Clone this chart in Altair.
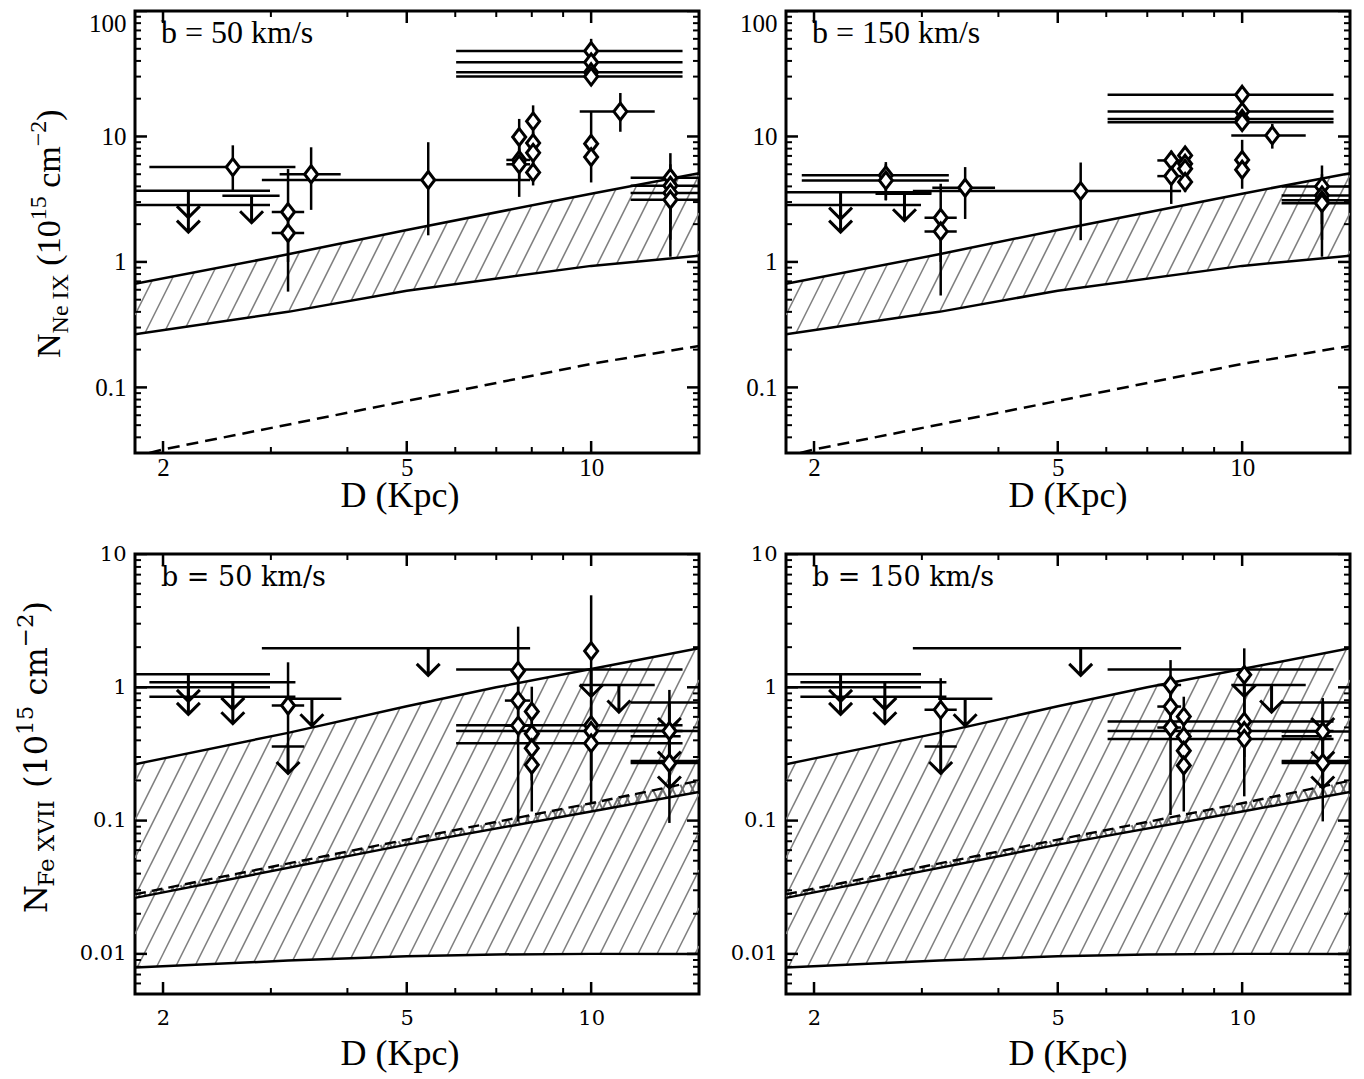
import numpy as np
import pandas as pd
import altair as alt

# ------------------------------------------------------------------ data
XDOM = [1.8, 15.0]
YDOM_NE = [0.03, 100.0]
YDOM_FE = [0.005, 10.0]

# Ne IX, b = 50 km/s : detections (value, y-range, x-range)
ne50_x   = [2.60, 3.20, 3.20, 3.49, 5.42, 7.63, 7.63, 7.63, 8.04, 8.04, 8.04, 8.04, 10.0, 10.0, 10.0, 10.0, 10.0, 10.0, 11.16, 13.47, 13.47, 13.47, 13.47]
ne50_y   = [5.7, 2.5, 1.7, 5.0, 4.5, 9.9, 6.5, 6.0, 13.2, 8.85, 7.4, 5.17, 48.0, 39.0, 32.5, 30.0, 8.75, 6.85, 15.8, 4.69, 4.05, 3.55, 3.13]
ne50_ylo = [3.7, 1.0, 0.58, 2.6, 1.63, 6.5, 4.5, 3.3, 9.5, 6.5, 5.0, 4.07, 40.0, 33.0, 27.0, 25.5, 6.0, 4.3, 10.9, 2.5, 2.0, 1.5, 1.1]
ne50_yhi = [8.5, 5.5, 2.6, 8.2, 9.0, 13.8, 9.0, 8.0, 17.7, 11.0, 10.0, 7.0, 60.0, 47.0, 39.0, 35.0, 15.8, 9.0, 22.2, 7.36, 6.0, 5.5, 5.0]
ne50_xlo = [1.90, 3.01, 3.01, 3.10, 2.90, 7.63, 7.27, 7.27, 8.04, 8.04, 8.04, 8.04, 6.02, 6.02, 6.02, 6.02, 10.0, 10.0, 9.58, 11.6, 11.6, 11.6, 11.6]
ne50_xhi = [3.29, 3.40, 3.40, 3.90, 7.95, 7.63, 7.95, 7.95, 8.04, 8.04, 8.04, 8.04, 14.1, 14.1, 14.1, 14.1, 10.0, 10.0, 12.7, 16.0, 16.0, 16.0, 16.0]
# Ne IX, b = 50 km/s : upper limits
ne50_ul_x   = [2.20, 2.20, 2.79]
ne50_ul_y   = [3.7, 2.84, 3.37]
ne50_ul_xlo = [1.70, 1.70, 2.50]
ne50_ul_xhi = [2.99, 2.99, 3.10]

# Ne IX, b = 150 km/s
ne150_x   = [2.62, 2.62, 3.22, 3.22, 3.53, 5.45, 7.66, 7.66, 8.07, 8.07, 8.07, 8.07, 10.0, 10.0, 10.0, 10.0, 10.0, 10.0, 11.2, 13.5, 13.5, 13.5, 13.5]
ne150_y   = [4.9, 4.46, 2.25, 1.75, 3.9, 3.67, 6.44, 4.83, 7.06, 6.06, 5.53, 4.34, 21.5, 15.8, 13.8, 13.0, 6.5, 5.43, 10.2, 4.0, 3.39, 3.1, 2.94]
ne150_ylo = [3.1, 3.1, 1.0, 0.54, 2.2, 1.49, 4.5, 2.9, 5.5, 4.5, 4.2, 3.6, 18.0, 13.5, 12.0, 11.5, 4.8, 3.83, 8.0, 2.5, 2.0, 1.5, 1.1]
ne150_yhi = [6.25, 6.0, 4.2, 2.5, 5.7, 6.2, 7.7, 6.5, 8.2, 7.5, 7.0, 5.5, 25.0, 18.0, 16.0, 15.0, 9.4, 7.0, 12.6, 5.87, 5.0, 4.5, 4.0]
ne150_xlo = [1.91, 1.91, 3.03, 3.03, 3.12, 2.90, 7.27, 7.27, 8.07, 8.07, 8.07, 8.07, 6.03, 6.03, 6.03, 6.03, 10.0, 10.0, 9.60, 11.6, 11.6, 11.6, 11.6]
ne150_xhi = [3.32, 3.32, 3.42, 3.42, 3.95, 7.95, 7.95, 7.95, 8.07, 8.07, 8.07, 8.07, 14.1, 14.1, 14.1, 14.1, 10.0, 10.0, 12.7, 16.0, 16.0, 16.0, 16.0]
ne150_ul_x   = [2.21, 2.21, 2.81]
ne150_ul_y   = [3.6, 2.84, 3.5]
ne150_ul_xlo = [1.70, 1.70, 2.52]
ne150_ul_xhi = [3.11, 2.99, 3.11]

# Fe XVII, b = 50 km/s
fe50_x   = [3.20, 7.60, 7.60, 7.60, 8.00, 8.00, 8.00, 8.00, 10.0, 10.0, 10.0, 10.0, 13.42, 13.42]
fe50_y   = [0.73, 1.33, 0.795, 0.516, 0.658, 0.448, 0.349, 0.262, 1.87, 0.52, 0.47, 0.38, 0.47, 0.27]
fe50_ylo = [0.36, 0.80, 0.50, 0.0986, 0.40, 0.25, 0.20, 0.117, 0.90, 0.20, 0.20, 0.135, 0.20, 0.096]
fe50_yhi = [1.54, 2.85, 1.20, 0.80, 1.01, 0.65, 0.50, 0.40, 4.90, 1.00, 0.80, 0.60, 0.956, 0.50]
fe50_xlo = [3.01, 7.60, 7.23, 7.23, 8.00, 8.00, 8.00, 8.00, 10.0, 6.02, 6.02, 6.02, 11.6, 11.6]
fe50_xhi = [3.40, 7.60, 7.95, 7.95, 8.00, 8.00, 8.00, 8.00, 10.0, 14.1, 14.1, 14.1, 16.0, 16.0]
fe50_ul_x   = [2.20, 2.20, 2.60, 2.60, 3.20, 3.50, 5.42, 10.0, 11.1, 13.42, 13.42, 13.42]
fe50_ul_y   = [1.25, 1.00, 1.09, 0.85, 0.36, 0.82, 1.96, 1.36, 1.04, 0.77, 0.43, 0.28]
fe50_ul_xlo = [1.70, 1.70, 1.90, 1.90, 3.01, 3.19, 2.90, 6.02, 9.58, 11.6, 11.6, 11.6]
fe50_ul_xhi = [2.99, 2.99, 3.29, 3.29, 3.40, 3.91, 7.95, 14.1, 12.7, 16.0, 14.0, 16.0]

# Fe XVII, b = 150 km/s
fe150_x   = [3.22, 7.64, 7.64, 7.64, 8.03, 8.03, 8.03, 8.03, 10.08, 10.08, 10.08, 10.08, 13.54, 13.54]
fe150_y   = [0.677, 1.04, 0.717, 0.499, 0.603, 0.428, 0.334, 0.259, 1.24, 0.553, 0.47, 0.41, 0.466, 0.27]
fe150_ylo = [0.36, 0.60, 0.40, 0.11, 0.30, 0.25, 0.20, 0.117, 0.70, 0.30, 0.25, 0.152, 0.20, 0.0986]
fe150_yhi = [1.17, 1.60, 1.00, 0.80, 0.85, 0.60, 0.50, 0.40, 1.96, 1.00, 0.80, 0.70, 0.83, 0.50]
fe150_xlo = [3.03, 7.27, 7.27, 7.27, 8.03, 8.03, 8.03, 8.03, 10.08, 6.03, 6.03, 6.03, 11.6, 11.6]
fe150_xhi = [3.42, 7.95, 7.95, 7.95, 8.03, 8.03, 8.03, 8.03, 10.08, 14.1, 14.1, 14.1, 16.0, 16.0]
fe150_ul_x   = [2.21, 2.21, 2.61, 2.61, 3.22, 3.53, 5.45, 10.08, 11.17, 13.54, 13.54, 13.54]
fe150_ul_y   = [1.25, 1.00, 1.09, 0.85, 0.36, 0.82, 1.96, 1.36, 1.04, 0.77, 0.43, 0.28]
fe150_ul_xlo = [1.70, 1.70, 1.90, 1.90, 3.03, 3.19, 2.90, 6.03, 9.60, 11.6, 11.6, 11.6]
fe150_ul_xhi = [2.99, 2.99, 3.29, 3.29, 3.42, 3.91, 7.95, 14.1, 12.7, 16.0, 14.0, 16.0]

# model bands
ne_band_x  = [1.8, 3.2, 5.0, 10.0, 15.0]
ne_band_lo = [0.265, 0.40, 0.59, 0.93, 1.12]
ne_band_hi = [0.67, 1.15, 1.80, 3.50, 5.10]
ne_dash_x  = [1.9, 2.0, 5.0, 10.0, 15.0]
ne_dash_y  = [0.030, 0.032, 0.078, 0.154, 0.214]

fe_band_x  = [1.8, 3.2, 5.0, 7.0, 10.0, 15.0]
fe_band_lo = [0.0079, 0.0089, 0.0096, 0.0099, 0.0100, 0.0100]
fe_band_hi = [0.265, 0.455, 0.72, 1.00, 1.37, 1.96]
fe_thin_x     = [1.8, 5.0, 10.0, 15.0]
fe_thin_dash  = [0.028, 0.072, 0.135, 0.199]
fe_thin_solid = [0.0263, 0.066, 0.117, 0.164]

# ------------------------------------------------------------------ layout / style
W = 564
H_TOP, H_BOT = 442, 440
DIAMOND = "M0,-1.3L1,0L0,1.3L-1,0Z"
ARROW = "M0,0L0,2M-0.85,1.15L0,2L0.85,1.15"
TIMES = {'N': .722, 'e': .444, ' ': .25, 'I': .333, 'X': .722, '(': .333, ')': .333, '1': .5,
         '0': .5, '5': .5, 'c': .444, 'm': .778, '\u2212': .564, '2': .5, 'F': .556, 'V': .722}
DEJAVU = {'N': .818, 'e': .592, ' ': .318, 'I': .402, 'X': .716, '(': .390, ')': .390, '1': .636,
          '0': .636, '5': .636, 'c': .550, 'm': .952, '\u2212': .838, '2': .636, 'F': .705, 'V': .716}


def hatch_segments(bx, blo, bhi, ydom, H, direction=1, step=19.0, k=0.5, phase=0.0):
    lx0, lx1 = np.log10(XDOM)
    ly0, ly1 = np.log10(ydom)
    bpx = W * (np.log10(np.asarray(bx, float)) - lx0) / (lx1 - lx0)
    plo = H * (ly1 - np.log10(np.asarray(blo, float))) / (ly1 - ly0)
    phi = H * (ly1 - np.log10(np.asarray(bhi, float))) / (ly1 - ly0)
    py = np.linspace(0, H, int(H * 4) + 1)
    rows = []
    for c in np.arange(-k * H - step, W + k * H + step, step) + phase:
        px = c + direction * k * (H - py)
        lo_b = np.interp(px, bpx, plo)
        hi_b = np.interp(px, bpx, phi)
        inside = (px >= 0) & (px <= W) & (py <= lo_b) & (py >= hi_b)
        idx = np.flatnonzero(inside)
        if idx.size == 0:
            continue
        splits = np.flatnonzero(np.diff(idx) > 1)
        starts = np.r_[idx[0], idx[splits + 1]]
        ends = np.r_[idx[splits], idx[-1]]
        for s, e in zip(starts, ends):
            if e - s < 2:
                continue
            rows.append({
                'x': 10 ** (lx0 + px[s] / W * (lx1 - lx0)),
                'y': 10 ** (ly1 - py[s] / H * (ly1 - ly0)),
                'x2': 10 ** (lx0 + px[e] / W * (lx1 - lx0)),
                'y2': 10 ** (ly1 - py[e] / H * (ly1 - ly0)),
            })
    return pd.DataFrame(rows)


def tick_frames(ydom):
    lo_dec = int(np.floor(np.log10(ydom[0])))
    hi_dec = int(np.ceil(np.log10(ydom[1])))
    xmaj = [2, 5, 10]
    xmin = [3, 4, 6, 7, 8, 9]
    ymaj, ymin = [], []
    for d in range(lo_dec, hi_dec + 1):
        for m in range(1, 10):
            v = m * 10.0 ** d
            if ydom[0] * 0.999 <= v <= ydom[1] * 1.001:
                (ymaj if m == 1 else ymin).append(v)
    xv = lambda vals: pd.DataFrame([{'x': v, 'y': yy} for v in vals for yy in ydom])
    yv = lambda vals: pd.DataFrame([{'x': xx, 'y': v} for v in vals for xx in XDOM])
    return xv(xmaj), xv(xmin), yv(ymaj), yv(ymin), [v for v in ymaj]


def title_layers(segs, widths, font, x0, y0):
    """segments: (text, font size, baseline shift, leading space in em)"""
    layers = []
    y = y0
    for text, size, shift, pre in segs:
        y -= pre * size
        df = pd.DataFrame({'t': [text]})
        layers.append(alt.Chart(df).mark_text(
            angle=270, align='left', baseline='alphabetic', font=font,
            fontSize=size, color='black').encode(
            text='t:N', x=alt.value(x0 + shift), y=alt.value(y)))
        y -= sum(widths.get(ch, 0.5) for ch in text) * size
    return layers


def make_panel(det, ul, ydom, H, band, tag, font, tag_size, lab_size, xlab_pad,
               xtitle_x, xtitle_off, flush, ytitle=None, dashed=None, thin=None):
    xscale = alt.Scale(type='log', domain=XDOM, nice=False)
    yscale = alt.Scale(type='log', domain=ydom, nice=False)
    xmaj_df, xmin_df, ymaj_df, ymin_df, ymaj = tick_frames(ydom)
    xaxis = alt.Axis(values=[2, 5, 10], format='~g', ticks=False, domain=False, grid=False,
                     labelFont=font, labelFontSize=lab_size, labelPadding=xlab_pad,
                     labelColor='black', labelFlush=False, title=None)
    yaxis = alt.Axis(values=ymaj, format='~g', ticks=False, domain=False, grid=False,
                     labelFont=font, labelFontSize=lab_size, labelPadding=9,
                     labelColor='black', labelFlush=flush, title=None)
    X = lambda f='x': alt.X(f + ':Q', scale=xscale, axis=xaxis)
    Y = lambda f='y': alt.Y(f + ':Q', scale=yscale, axis=yaxis)

    layers = []
    # hatch of model band
    bx, blo, bhi = band
    hdf = hatch_segments(bx, blo, bhi, ydom, H, direction=1)
    layers.append(alt.Chart(hdf).mark_rule(color='#808080', strokeWidth=1.6, clip=True).encode(
        x=X(), y=Y(), x2='x2:Q', y2='y2:Q'))
    bdf = pd.DataFrame({'x': bx, 'lo': blo, 'hi': bhi})
    if thin is not None:
        tx, tdash, tsolid = thin
        cdf = pd.concat([
            hatch_segments(tx, tsolid, tdash, ydom, H, direction=-1, step=10.0),
            hatch_segments(tx, tsolid, tdash, ydom, H, direction=1, step=10.0, phase=5.0)])
        layers.append(alt.Chart(cdf).mark_rule(color='#707070', strokeWidth=1.8, clip=True).encode(
            x=X(), y=Y(), x2='x2:Q', y2='y2:Q'))
        tdf = pd.DataFrame({'x': tx, 'd': tdash, 's': tsolid})
        layers.append(alt.Chart(tdf).mark_line(color='black', strokeWidth=2.4, clip=True).encode(
            x=X(), y=Y('s')))
        layers.append(alt.Chart(tdf).mark_line(color='black', strokeWidth=2.4, strokeDash=[11, 6],
                                               clip=True).encode(x=X(), y=Y('d')))
    layers.append(alt.Chart(bdf).mark_line(color='black', strokeWidth=2.5, clip=True).encode(
        x=X(), y=Y('lo')))
    layers.append(alt.Chart(bdf).mark_line(color='black', strokeWidth=2.5, clip=True).encode(
        x=X(), y=Y('hi')))
    if dashed is not None:
        ddf = pd.DataFrame({'x': dashed[0], 'y': dashed[1]})
        layers.append(alt.Chart(ddf).mark_line(color='black', strokeWidth=2.5, strokeDash=[12, 7],
                                               clip=True).encode(x=X(), y=Y()))

    # upper limits
    udf = pd.DataFrame(dict(zip(['x', 'y', 'xlo', 'xhi'], ul)))
    layers.append(alt.Chart(udf).mark_rule(color='black', strokeWidth=2.5, clip=True).encode(
        x=X('xlo'), x2='xhi:Q', y=Y()))
    layers.append(alt.Chart(udf).mark_point(shape=ARROW, size=729, filled=False, color='black',
                                            strokeWidth=3, opacity=1, clip=True).encode(x=X(), y=Y()))

    # detections
    ddf = pd.DataFrame(dict(zip(['x', 'y', 'ylo', 'yhi', 'xlo', 'xhi'], det)))
    hdet = ddf[ddf.xhi > ddf.xlo]
    layers.append(alt.Chart(hdet).mark_rule(color='black', strokeWidth=2.5, clip=True).encode(
        x=X('xlo'), x2='xhi:Q', y=Y()))
    layers.append(alt.Chart(ddf).mark_rule(color='black', strokeWidth=2.5, clip=True).encode(
        x=X(), y=Y('ylo'), y2='yhi:Q'))
    layers.append(alt.Chart(ddf).mark_point(shape=DIAMOND, size=169, filled=True, fill='white',
                                            stroke='black', strokeWidth=3, opacity=1,
                                            clip=True).encode(x=X(), y=Y()))

    # inward ticks on all four sides
    layers.append(alt.Chart(xmaj_df).mark_tick(orient='vertical', size=24, thickness=2.5,
                                               color='black', opacity=1, clip=True).encode(x=X(), y=Y()))
    layers.append(alt.Chart(xmin_df).mark_tick(orient='vertical', size=12, thickness=2,
                                               color='black', opacity=1, clip=True).encode(x=X(), y=Y()))
    layers.append(alt.Chart(ymaj_df).mark_tick(orient='horizontal', size=24, thickness=2.5,
                                               color='black', opacity=1, clip=True).encode(x=X(), y=Y()))
    layers.append(alt.Chart(ymin_df).mark_tick(orient='horizontal', size=12, thickness=2,
                                               color='black', opacity=1, clip=True).encode(x=X(), y=Y()))

    # texts
    layers.append(alt.Chart(pd.DataFrame({'t': [tag]})).mark_text(
        align='left', baseline='alphabetic', font=font, fontSize=tag_size, color='black').encode(
        text='t:N', x=alt.value(26), y=alt.value(32)))
    layers.append(alt.Chart(pd.DataFrame({'t': ['D (Kpc)']})).mark_text(
        align='center', baseline='alphabetic', font='Liberation Serif', fontSize=36,
        color='black').encode(text='t:N', x=alt.value(xtitle_x), y=alt.value(H + xtitle_off)))
    if ytitle is not None:
        layers += ytitle
    return alt.layer(*layers).properties(width=W, height=H)


top_title = title_layers(
    [('N', 34, 0, 0), ('Ne IX', 24, 8, 0), ('(10', 34, 0, 0.25), ('15', 24, -14, 0),
     ('cm', 34, 0, 0.25), ('\u22122', 24, -14, 0), (')', 34, 0, 0)],
    TIMES, 'Liberation Serif', -75, 347)
bot_title = title_layers(
    [('N', 32, 0, 0), ('Fe XVII', 23, 7, 0), ('(10', 32, 0, 0.318), ('15', 23, -14, 0),
     ('cm', 32, 0, 0.318), ('\u22122', 23, -14, 0), (')', 32, 0, 0)],
    DEJAVU, 'DejaVu Serif', -88, 359)

ne_band = (ne_band_x, ne_band_lo, ne_band_hi)
fe_band = (fe_band_x, fe_band_lo, fe_band_hi)
fe_thin = (fe_thin_x, fe_thin_dash, fe_thin_solid)

tl = make_panel((ne50_x, ne50_y, ne50_ylo, ne50_yhi, ne50_xlo, ne50_xhi),
                (ne50_ul_x, ne50_ul_y, ne50_ul_xlo, ne50_ul_xhi), YDOM_NE, H_TOP, ne_band,
                'b = 50 km/s', 'Liberation Serif', 32, 25, 2, W / 2 - 17, 54, True,
                ytitle=top_title, dashed=(ne_dash_x, ne_dash_y))
tr = make_panel((ne150_x, ne150_y, ne150_ylo, ne150_yhi, ne150_xlo, ne150_xhi),
                (ne150_ul_x, ne150_ul_y, ne150_ul_xlo, ne150_ul_xhi), YDOM_NE, H_TOP, ne_band,
                'b = 150 km/s', 'Liberation Serif', 32, 25, 2, W / 2, 54, True,
                dashed=(ne_dash_x, ne_dash_y))
bl = make_panel((fe50_x, fe50_y, fe50_ylo, fe50_yhi, fe50_xlo, fe50_xhi),
                (fe50_ul_x, fe50_ul_y, fe50_ul_xlo, fe50_ul_xhi), YDOM_FE, H_BOT, fe_band,
                'b = 50 km/s', 'DejaVu Serif', 27, 21, 13, W / 2 - 17, 71, False,
                ytitle=bot_title, thin=fe_thin)
br = make_panel((fe150_x, fe150_y, fe150_ylo, fe150_yhi, fe150_xlo, fe150_xhi),
                (fe150_ul_x, fe150_ul_y, fe150_ul_xlo, fe150_ul_xhi), YDOM_FE, H_BOT, fe_band,
                'b = 150 km/s', 'DejaVu Serif', 27, 21, 13, W / 2, 71, False, thin=fe_thin)

chart = alt.concat(tl, tr, bl, br, columns=2, spacing={'row': 101, 'column': 87},
                   bounds='flush').configure_view(
    stroke='black', strokeWidth=3).properties(
    padding={'left': 13, 'top': 9, 'right': 5, 'bottom': 5}, background='white')

chart.save("out.html", embed_options={"renderer": "svg", "actions": False})
